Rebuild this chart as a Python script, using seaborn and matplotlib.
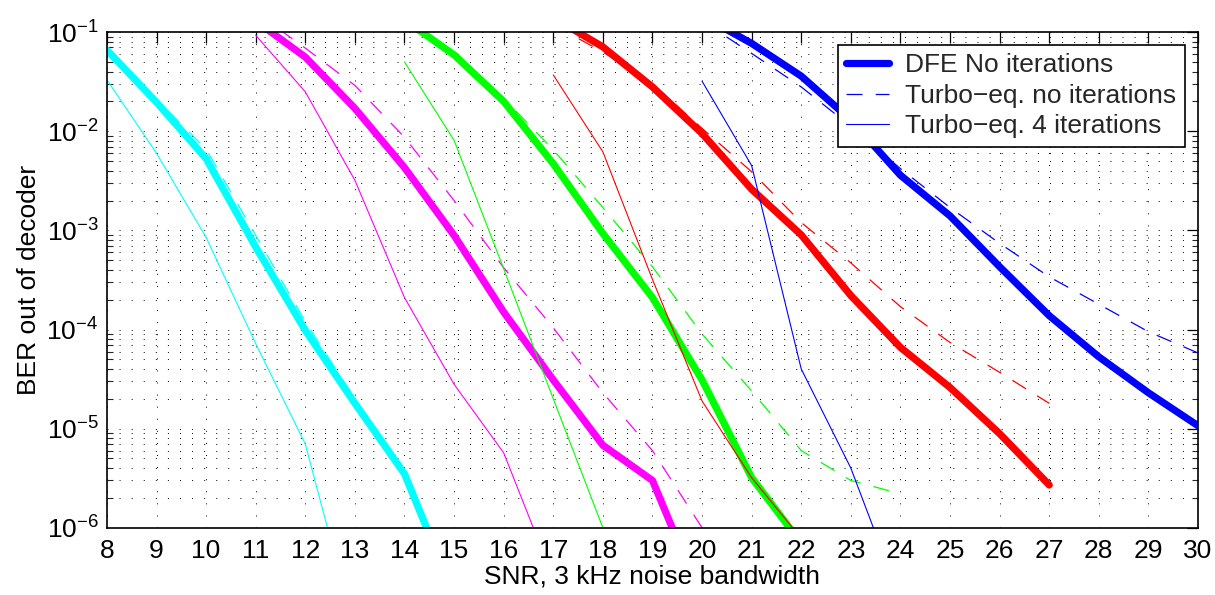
import numpy as np
import pandas as pd
import matplotlib
matplotlib.use("Agg")
import matplotlib.pyplot as plt
import seaborn as sns
from matplotlib.ticker import LogLocator, NullFormatter, FixedLocator

# ---- BER curves (SNR in dB) ----
snr_cyan = [8, 9, 10, 11, 12, 13, 14, 15]
ber_cyan_dfe = [0.066, 0.0196, 0.0053, 6.8e-4, 9.8e-5, 1.8e-5, 3.5e-6, 2.1e-7]
ber_cyan_te0 = [0.068, 0.021, 0.0066, 8.9e-4, 1.2e-4, 2.0e-5, 3.8e-6, 2.5e-7]
ber_cyan_te4 = [0.033, 0.006, 8.5e-4, 7.2e-5, 7.0e-6, 9e-8, 1e-9, 1e-10]

snr_magenta = [11, 12, 13, 14, 15, 16, 17, 18, 19, 20]
ber_magenta_dfe = [0.13, 0.056, 0.017, 0.0043, 8.9e-4, 1.5e-4, 3.1e-5, 6.8e-6, 3.0e-6, 1.9e-7]
ber_magenta_te0 = [0.158, 0.069, 0.029, 0.0087, 0.002, 4.2e-4, 1.04e-4, 2.3e-5, 6.0e-6, 1.0e-6]
ber_magenta_te4 = [0.093, 0.025, 0.0032, 2.1e-4, 2.8e-5, 5.7e-6, 3.1e-7, 1e-8, 1e-9, 1e-10]

snr_green = [14, 15, 16, 17, 18, 19, 20, 21, 22, 23, 24]
ber_green_dfe = [0.133, 0.059, 0.020, 0.0047, 9.3e-4, 2.1e-4, 3.1e-5, 3.2e-6, 7.0e-7, np.nan, np.nan]
ber_green_te0 = [0.14, 0.062, 0.0215, 0.0065, 0.0017, 4.3e-4, 9.0e-5, 2.4e-5, 6.0e-6, 3.0e-6, 2.2e-6]
ber_green_te4 = [0.05, 0.0081, 4.1e-4, 2.0e-5, 1.0e-6, 5e-8, np.nan, np.nan, np.nan, np.nan, np.nan]

snr_red = [17, 18, 19, 20, 21, 22, 23, 24, 25, 26, 27]
ber_red_dfe = [0.14, 0.071, 0.028, 0.0095, 0.0026, 9.0e-4, 2.2e-4, 6.6e-5, 2.6e-5, 8.9e-6, 2.7e-6]
ber_red_te0 = [0.119, 0.063, 0.030, 0.0107, 0.0039, 0.0012, 4.7e-4, 1.7e-4, 7.4e-5, 3.7e-5, 1.8e-5]
ber_red_te4 = [0.037, 0.0062, 3.2e-4, 1.9e-5, 3.2e-6, 7.8e-7, 1e-8, np.nan, np.nan, np.nan, np.nan]

snr_blue = [20, 21, 22, 23, 24, 25, 26, 27, 28, 29, 30]
ber_blue_dfe = [0.146, 0.077, 0.036, 0.013, 0.0036, 0.0014, 4.3e-4, 1.38e-4, 5.3e-5, 2.3e-5, 1.07e-5]
ber_blue_te0 = [0.13, 0.061, 0.028, 0.0112, 0.0042, 0.0017, 7.4e-4, 3.4e-4, 1.8e-4, 9.5e-5, 5.8e-5]
ber_blue_te4 = [0.032, 0.0045, 4.0e-5, 4.0e-6, 1.9e-7, 1e-9, np.nan, np.nan, np.nan, np.nan, np.nan]

legend_labels = ["DFE No iterations", "Turbo\u2212eq. no iterations", "Turbo\u2212eq. 4 iterations"]
xticks = list(range(8, 31))

groups = [
    ("#00ffff", snr_cyan, ber_cyan_dfe, ber_cyan_te0, ber_cyan_te4),
    ("#ff00ff", snr_magenta, ber_magenta_dfe, ber_magenta_te0, ber_magenta_te4),
    ("#00ff00", snr_green, ber_green_dfe, ber_green_te0, ber_green_te4),
    ("#ff0000", snr_red, ber_red_dfe, ber_red_te0, ber_red_te4),
    ("#0000ff", snr_blue, ber_blue_dfe, ber_blue_te0, ber_blue_te4),
]

sns.set_theme(style="white")
plt.rcParams["font.family"] = ["Liberation Sans", "DejaVu Sans"]
plt.rcParams["mathtext.fontset"] = "custom"
plt.rcParams["mathtext.rm"] = "Liberation Sans"
plt.rcParams["mathtext.it"] = "Liberation Sans:italic"
plt.rcParams["mathtext.bf"] = "Liberation Sans:bold"
plt.rcParams["lines.scale_dashes"] = False

FS = 19

fig = plt.figure(figsize=(12.15, 5.95), dpi=100)
ax = fig.add_axes([0.088, 0.113, 0.898, 0.833])

styles = [
    dict(lw=5.2, ls="-"),
    dict(lw=0.9, ls=(0, (11.5, 9.5))),
    dict(lw=0.8, ls="-"),
]

legend_handles = []
for color, snr, *curves in groups:
    for ber, st in zip(curves, styles):
        df = pd.DataFrame({"snr": snr, "ber": ber}).dropna()
        n_before = len(ax.lines)
        sns.lineplot(data=df, x="snr", y="ber", ax=ax, color=color,
                     linewidth=st["lw"], linestyle=st["ls"],
                     estimator=None, sort=False, legend=False)
        line = ax.lines[n_before]
        line.set_solid_joinstyle("round")
        line.set_dash_joinstyle("round")
        if color == "#0000ff":
            legend_handles.append(line)

ax.set_yscale("log")
ax.set_xlim(8, 30)
ax.set_ylim(1e-6, 1e-1)
ax.xaxis.set_major_locator(FixedLocator(xticks))
ax.yaxis.set_major_locator(LogLocator(base=10, numticks=10))
ax.yaxis.set_minor_locator(LogLocator(base=10, subs=np.arange(2, 10), numticks=20))
ax.yaxis.set_minor_formatter(NullFormatter())

grid_kw = dict(color="black", linestyle=(0, (0.7, 8.0)), linewidth=0.7)
ax.grid(True, which="major", axis="both", **grid_kw)
ax.grid(True, which="minor", axis="y", **grid_kw)

ax.tick_params(axis="both", which="major", direction="in", length=8, width=0.9,
               top=True, right=True, labelsize=FS, colors="black")
ax.tick_params(axis="x", which="major", pad=8)
ax.tick_params(axis="y", which="major", pad=6)
ax.tick_params(axis="y", which="minor", direction="in", length=4, width=0.8,
               left=True, right=True)

for sp in ax.spines.values():
    sp.set_color("black")
    sp.set_linewidth(1.2)

ax.set_xlabel("SNR, 3 kHz noise bandwidth", fontsize=FS, labelpad=1, color="black")
ax.set_ylabel("BER out of decoder", fontsize=FS, labelpad=4, color="black")

leg = ax.legend(legend_handles, legend_labels, loc="upper right",
                bbox_to_anchor=(0.988, 0.974), borderaxespad=0, fontsize=FS,
                frameon=True, fancybox=False, handlelength=1.65, handletextpad=0.6,
                labelspacing=0.24, borderpad=0.32)
leg.get_frame().set_edgecolor("black")
leg.get_frame().set_linewidth(1.2)
leg.get_frame().set_alpha(1)

fig.savefig("out.png", dpi=100, facecolor="white")
